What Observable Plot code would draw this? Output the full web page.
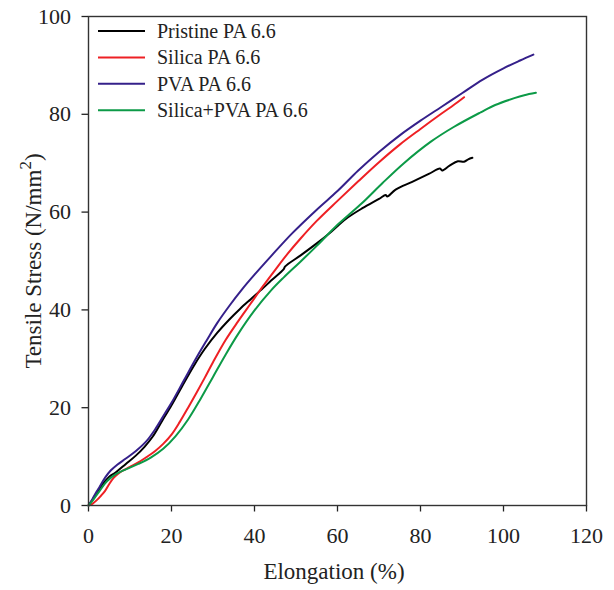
<!DOCTYPE html>
<html>
<head>
<meta charset="utf-8">
<script src="https://cdn.jsdelivr.net/npm/d3@7"></script>
<script src="https://cdn.jsdelivr.net/npm/@observablehq/plot@0.6"></script>
<style>
  html, body { margin: 0; padding: 0; background: #fff; }
  #chart { width: 614px; height: 590px; }
</style>
</head>
<body>
<div id="chart"></div>
<script>
// ---- data ----
const seriesNames = ["Pristine PA 6.6", "Silica PA 6.6", "PVA PA 6.6", "Silica+PVA PA 6.6"];
const seriesColors = ["#000000", "#ee2024", "#35208a", "#0c9a47"];

const pristine = [
  [0,0],[1,1.2],[2,2.6],[3,3.9],[4,5],[5,5.9],[6.6,6.8],[9,8.5],[11.4,10.2],[13.5,12],
  [15.4,14],[17.8,17.4],[20,20.5],[22.5,24.3],[25.4,28.6],[28,32],[31,35.3],[34,38.1],
  [36.5,40.2],[39.1,42.2],[42,44.4],[44,46],[47,48.3],[47.4,48.9],[51.2,51.2],[55,53.6],
  [58.5,56],[62,58.6],[66,60.8],[70,62.7],[71.6,63.5],[72,63.2],[74,64.6],[78,66.2],
  [82,67.8],[84.7,68.9],[85.2,68.5],[87,69.5],[89,70.4],[90.5,70.3],[91.5,70.8],[92.5,71.1]
];
const silica = [
  [0,0],[1,0.4],[2,1.1],[3,2],[4,3],[5,4.4],[6,5.6],[7,6.4],[8,7],[10,7.9],[12,8.8],
  [14,9.9],[16,11.1],[18,12.6],[20,14.5],[22,17.1],[24,20],[26,23],[28,26.1],[30,29.3],
  [33,33.8],[36,37.6],[39,41.2],[42,44.8],[45,48.2],[48,51.5],[51,54.5],[55,58.2],
  [60,62.3],[65,66.3],[70,70.2],[75,73.8],[80,77],[85,80.1],[88,81.9],[90.5,83.5]
];
const pva = [
  [0,0],[1,1.4],[2,2.9],[2.6,3.7],[4,5.7],[5.4,7.2],[7,8.4],[9,9.6],[11.5,11.2],
  [13.8,13],[16,15.5],[18.4,18.8],[20,21],[23,25.6],[26,30.2],[28.5,33.8],[31,37.3],
  [34,40.9],[37,44.2],[40,47.2],[44,51],[49,55.6],[55,60.5],[60,64.3],[65,68.5],
  [70,72.3],[75,75.7],[80,78.7],[85,81.5],[90,84.3],[95,87.1],[100,89.4],[104,91],[107.2,92.2]
];
const silicaPva = [
  [0,0],[1,1],[2.6,2.9],[4.5,5],[6.6,6.4],[9,7.4],[12,8.5],[15,9.8],[18,11.6],[21,14.2],
  [24,17.6],[27,21.8],[30,26.3],[33,30.8],[36,35],[40,39.9],[44,44],[47,46.6],[51,49.8],
  [55,53.1],[60,57.4],[62.4,59.2],[66,61.9],[70.8,65.9],[76,70],[82.5,74.4],[88,77.4],
  [94.5,80.4],[98,81.9],[102.6,83.3],[105,83.9],[107.8,84.4]
];

const xTicks = [0, 20, 40, 60, 80, 100, 120];
const yTicks = [0, 20, 40, 60, 80, 100];
const xTitle = "Elongation (%)";
const yTitle = "Tensile Stress (N/mm";
const yTitleSup = "2";
const yTitleEnd = ")";

// ---- table ----
const allSeries = [pristine, silica, pva, silicaPva];
const rows = [];
allSeries.forEach((s, i) => s.forEach(([x, y]) => rows.push({series: seriesNames[i], x, y})));

const font = "'Liberation Serif', 'Times New Roman', serif";

const chart = Plot.plot({
  width: 614,
  height: 590,
  marginLeft: 88,
  marginRight: 28,
  marginTop: 16,
  marginBottom: 85,
  style: {fontFamily: font, fontSize: "22px", color: "#222", background: "#fff"},
  x: {domain: [0, 120]},
  y: {domain: [0, 100]},
  color: {domain: seriesNames, range: seriesColors},
  marks: [
    Plot.axisX({ticks: xTicks, tickSize: 6.5, tickPadding: 15, label: null, tickFormat: d => String(d), strokeWidth: 1.3}),
    Plot.axisY({ticks: yTicks, tickSize: 6.5, tickPadding: 11, label: null, tickFormat: d => String(d), strokeWidth: 1.3}),
    Plot.line(rows, {x: "x", y: "y", z: "series", stroke: "series", strokeWidth: 2, curve: "catmull-rom"}),
    Plot.frame({stroke: "#333", strokeWidth: 1.4})
  ]
});

const svg = d3.select(chart);
// axis titles
svg.append("text")
  .attr("x", 334).attr("y", 579)
  .attr("text-anchor", "middle")
  .attr("font-family", font).attr("font-size", 23).attr("fill", "#222")
  .text(xTitle);

const yt = svg.append("text")
  .attr("transform", "translate(41,261) rotate(-90)")
  .attr("text-anchor", "middle")
  .attr("font-family", font).attr("font-size", 23).attr("fill", "#222");
yt.append("tspan").text(yTitle);
yt.append("tspan").attr("dy", -10).attr("font-size", 17).text(yTitleSup);
yt.append("tspan").attr("dy", 10).text(yTitleEnd);

// legend
const lg = svg.append("g").attr("font-family", font).attr("font-size", 20).attr("fill", "#222").attr("text-anchor", "start");
seriesNames.forEach((name, i) => {
  const cy = 31 + i * 26.4;
  lg.append("line").attr("x1", 98).attr("x2", 145).attr("y1", cy).attr("y2", cy)
    .attr("stroke", seriesColors[i]).attr("stroke-width", 2);
  lg.append("text").attr("x", 157).attr("y", cy).attr("dy", "0.35em").attr("text-anchor", "start").text(name);
});

document.getElementById("chart").appendChild(chart);
</script>
</body>
</html>
